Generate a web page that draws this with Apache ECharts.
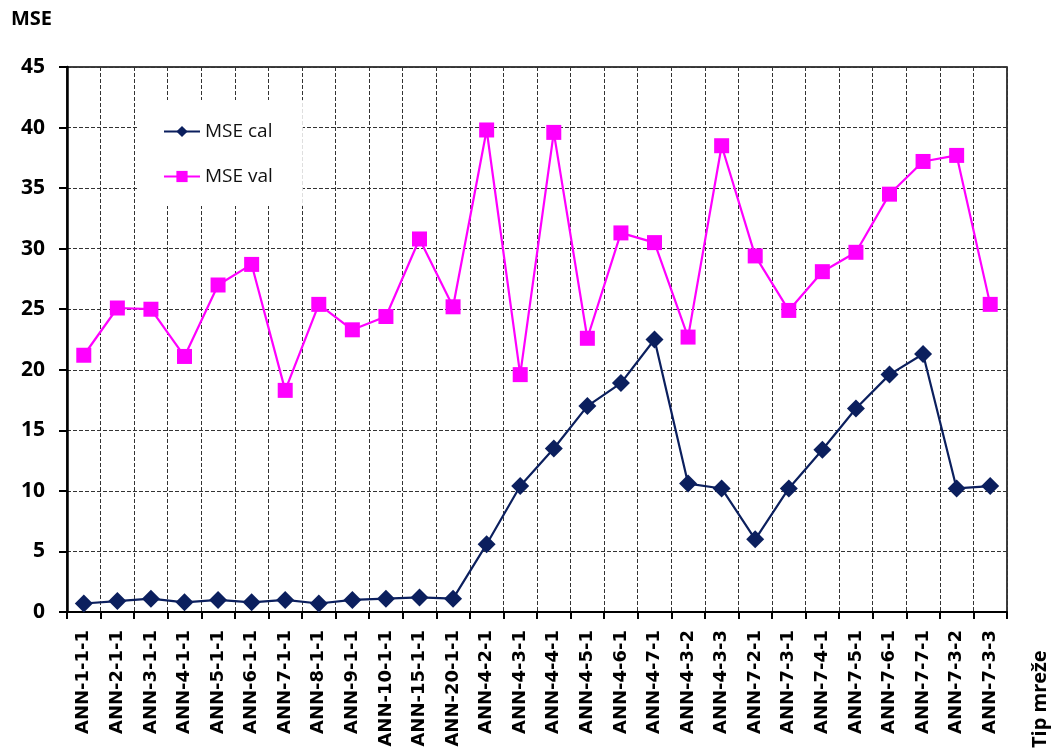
<!DOCTYPE html>
<html>
<head>
<meta charset="utf-8">
<script src="https://cdn.jsdelivr.net/npm/echarts@6/dist/echarts.min.js"></script>
<style>html,body{margin:0;padding:0;background:#fff;}#c{width:1054px;height:754px;}</style>
</head>
<body>
<div id="c"></div>
<script>
const categories = ['ANN-1-1-1','ANN-2-1-1','ANN-3-1-1','ANN-4-1-1','ANN-5-1-1','ANN-6-1-1','ANN-7-1-1','ANN-8-1-1','ANN-9-1-1','ANN-10-1-1','ANN-15-1-1','ANN-20-1-1','ANN-4-2-1','ANN-4-3-1','ANN-4-4-1','ANN-4-5-1','ANN-4-6-1','ANN-4-7-1','ANN-4-3-2','ANN-4-3-3','ANN-7-2-1','ANN-7-3-1','ANN-7-4-1','ANN-7-5-1','ANN-7-6-1','ANN-7-7-1','ANN-7-3-2','ANN-7-3-3'];
const mseCal = [0.7,0.9,1.1,0.8,1.0,0.8,1.0,0.7,1.0,1.1,1.2,1.1,5.6,10.4,13.5,17.0,18.9,22.5,10.6,10.2,6.0,10.2,13.4,16.8,19.6,21.3,10.2,10.4];
const mseVal = [21.2,25.1,25.0,21.1,27.0,28.7,18.3,25.4,23.3,24.4,30.8,25.2,39.8,19.6,39.6,22.6,31.3,30.5,22.7,38.5,29.4,24.9,28.1,29.7,34.5,37.2,37.7,25.4];
const yTicks = {min:0, max:45, interval:5};
const seriesNames = ['MSE cal','MSE val'];
const yTitle = 'MSE';
const xTitle = 'Tip mreže';

const chart = echarts.init(document.getElementById('c'), null, {renderer:'canvas'});
const dash = {type:'dashed', color:'#333', width:1};
chart.setOption({
  animation:false,
  backgroundColor:'#fff',
  grid:{left:67, right:47, top:67, bottom:142, show:true, borderColor:'#000', borderWidth:1.5, backgroundColor:'transparent'},
  legend:{
    orient:'vertical', left:137, top:100,
    padding:[22,30,20,26], backgroundColor:'#fff',
    itemWidth:36, itemHeight:14, itemGap:26,
    textStyle:{fontFamily:'Open Sans', fontSize:19, color:'#111'},
    data:seriesNames
  },
  xAxis:{
    type:'category', data:categories, boundaryGap:true,
    axisLine:{lineStyle:{color:'#000', width:2}},
    axisTick:{show:true, inside:false, length:7, lineStyle:{color:'#000', width:2}},
    splitLine:{show:true, lineStyle:dash},
    axisLabel:{rotate:90, interval:0, margin:18, fontFamily:'DejaVu Sans', fontWeight:'bold', fontSize:18, color:'#000'}
  },
  yAxis:{
    type:'value', min:yTicks.min, max:yTicks.max, interval:yTicks.interval,
    axisLine:{show:true, lineStyle:{color:'#000', width:2.5}},
    axisTick:{show:true, inside:false, length:8, lineStyle:{color:'#000', width:2}},
    splitLine:{show:true, lineStyle:dash},
    axisLabel:{margin:22, fontFamily:'Open Sans', fontWeight:'bold', fontSize:21, color:'#000'}
  },
  graphic:[
    {type:'text', left:11, top:9, style:{text:yTitle, fontFamily:'Open Sans', fontWeight:'bold', fontSize:20, fill:'#000'}},
    {type:'text', x:1050, y:748, rotation:Math.PI/2, style:{text:xTitle, fontFamily:'Open Sans', fontWeight:'bold', fontSize:20, fill:'#000', textAlign:'left', textVerticalAlign:'bottom'}}
  ],
  series:[
    {name:seriesNames[0], type:'line', data:mseCal, symbol:'diamond', symbolSize:18,
     lineStyle:{color:'#0b1f5e', width:2.2}, itemStyle:{color:'#0b1f5e'}, z:3},
    {name:seriesNames[1], type:'line', data:mseVal, symbol:'rect', symbolSize:15,
     lineStyle:{color:'#ff00ff', width:2.2}, itemStyle:{color:'#ff00ff'}, z:2}
  ]
});
</script>
</body>
</html>
